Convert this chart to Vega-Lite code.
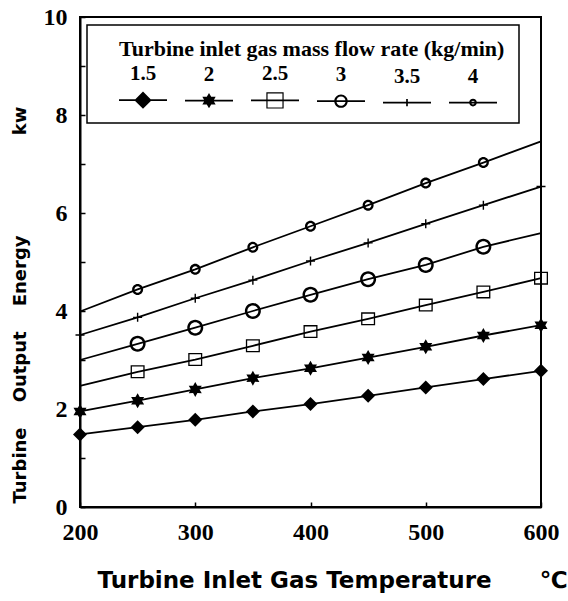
{
  "$schema": "https://vega.github.io/schema/vega-lite/v6.json",
  "width": 461,
  "height": 490,
  "autosize": {"type": "none"},
  "padding": {"left": 80, "top": 17, "right": 27, "bottom": 94},
  "background": "white",
  "data": {
    "values": [
      {"flow": "1.5", "T": 200, "E": 1.48}, {"flow": "1.5", "T": 250, "E": 1.63}, {"flow": "1.5", "T": 300, "E": 1.78},
      {"flow": "1.5", "T": 350, "E": 1.95}, {"flow": "1.5", "T": 400, "E": 2.10}, {"flow": "1.5", "T": 450, "E": 2.27},
      {"flow": "1.5", "T": 500, "E": 2.44}, {"flow": "1.5", "T": 550, "E": 2.61}, {"flow": "1.5", "T": 600, "E": 2.78},
      {"flow": "2", "T": 200, "E": 1.95}, {"flow": "2", "T": 250, "E": 2.17}, {"flow": "2", "T": 300, "E": 2.40},
      {"flow": "2", "T": 350, "E": 2.63}, {"flow": "2", "T": 400, "E": 2.83}, {"flow": "2", "T": 450, "E": 3.05},
      {"flow": "2", "T": 500, "E": 3.27}, {"flow": "2", "T": 550, "E": 3.50}, {"flow": "2", "T": 600, "E": 3.71},
      {"flow": "2.5", "T": 200, "E": 2.47}, {"flow": "2.5", "T": 250, "E": 2.76}, {"flow": "2.5", "T": 300, "E": 3.01},
      {"flow": "2.5", "T": 350, "E": 3.29}, {"flow": "2.5", "T": 400, "E": 3.58}, {"flow": "2.5", "T": 450, "E": 3.84},
      {"flow": "2.5", "T": 500, "E": 4.12}, {"flow": "2.5", "T": 550, "E": 4.39}, {"flow": "2.5", "T": 600, "E": 4.67},
      {"flow": "3", "T": 200, "E": 3.00}, {"flow": "3", "T": 250, "E": 3.33}, {"flow": "3", "T": 300, "E": 3.66},
      {"flow": "3", "T": 350, "E": 4.00}, {"flow": "3", "T": 400, "E": 4.33}, {"flow": "3", "T": 450, "E": 4.65},
      {"flow": "3", "T": 500, "E": 4.94}, {"flow": "3", "T": 550, "E": 5.31}, {"flow": "3", "T": 600, "E": 5.59},
      {"flow": "3.5", "T": 200, "E": 3.51}, {"flow": "3.5", "T": 250, "E": 3.87}, {"flow": "3.5", "T": 300, "E": 4.26},
      {"flow": "3.5", "T": 350, "E": 4.63}, {"flow": "3.5", "T": 400, "E": 5.02}, {"flow": "3.5", "T": 450, "E": 5.39},
      {"flow": "3.5", "T": 500, "E": 5.78}, {"flow": "3.5", "T": 550, "E": 6.16}, {"flow": "3.5", "T": 600, "E": 6.54},
      {"flow": "4", "T": 200, "E": 3.99}, {"flow": "4", "T": 250, "E": 4.44}, {"flow": "4", "T": 300, "E": 4.85},
      {"flow": "4", "T": 350, "E": 5.30}, {"flow": "4", "T": 400, "E": 5.73}, {"flow": "4", "T": 450, "E": 6.16},
      {"flow": "4", "T": 500, "E": 6.61}, {"flow": "4", "T": 550, "E": 7.03}, {"flow": "4", "T": 600, "E": 7.46}
    ]
  },
  "encoding": {
    "x": {
      "field": "T", "type": "quantitative",
      "scale": {"domain": [200, 600], "nice": false},
      "axis": {
        "values": [200, 300, 400, 500, 600],
        "title": "Turbine\u00a0Inlet\u00a0Gas\u00a0Temperature\u00a0\u00a0\u00a0\u00a0\u00a0\u00a0℃",
        "titleX": 17, "titleY": 73, "titleAlign": "left", "titleBaseline": "middle", "titleAngle": 0,
        "titleFontSize": 23,
        "labelFlush": false, "labelOverlap": false,
        "labelPadding": 18, "tickSize": -5
      }
    },
    "y": {
      "field": "E", "type": "quantitative",
      "scale": {"domain": [0, 10], "nice": false},
      "axis": {
        "values": [0, 1, 2, 3, 4, 5, 6, 7, 8, 9, 10],
        "labelExpr": "datum.value % 2 == 0 ? datum.label : ''",
        "title": "Turbine\u00a0\u00a0\u00a0\u00a0Output\u00a0\u00a0\u00a0\u00a0Energy\u00a0\u00a0\u00a0\u00a0\u00a0\u00a0\u00a0\u00a0\u00a0\u00a0\u00a0\u00a0\u00a0\u00a0\u00a0\u00a0kw",
        "titleX": -60, "titleY": 486, "titleAlign": "left", "titleBaseline": "middle", "titleAngle": 270,
        "titleFontSize": 18,
        "labelFlush": false, "labelOverlap": false,
        "labelPadding": 18, "tickSize": -5
      }
    }
  },
  "layer": [
    {
      "mark": {"type": "line", "color": "black", "strokeWidth": 1.8},
      "encoding": {"detail": {"field": "flow"}}
    },
    {
      "transform": [{"filter": "datum.flow == '1.5' || datum.flow == '2' || datum.flow == '3.5' || (datum.flow == '2.5' && datum.T >= 250) || ((datum.flow == '3' || datum.flow == '4') && datum.T >= 250 && datum.T <= 550)"}],
      "mark": {"type": "point", "filled": true, "color": "black", "size": 400, "opacity": 1, "strokeWidth": 0},
      "encoding": {
        "shape": {
          "field": "flow", "type": "nominal",
          "scale": {
            "domain": ["1.5", "2", "2.5", "3", "3.5", "4"],
            "range": [
              "M0,-0.7L0.7,0L0,0.7L-0.7,0Z",
              "M0,-0.75L0.215,-0.372L0.65,-0.375L0.43,0L0.65,0.375L0.215,0.372L0,0.75L-0.215,0.372L-0.65,0.375L-0.43,0L-0.65,-0.375L-0.215,-0.372Z",
              "M-0.7,-0.65H0.7V0.65H-0.7Z M-0.57,-0.52V0.52H0.57V-0.52Z",
              "M0,-0.8A0.8,0.8,0,1,1,0,0.8A0.8,0.8,0,1,1,0,-0.8Z M0,-0.55A0.55,0.55,0,1,0,0,0.55A0.55,0.55,0,1,0,0,-0.55Z",
              "M-0.45,-0.07H0.45V0.07H-0.45Z M-0.07,-0.45H0.07V0.45H-0.07Z",
              "M0,-0.55A0.55,0.55,0,1,1,0,0.55A0.55,0.55,0,1,1,0,-0.55Z M0,-0.32A0.32,0.32,0,1,0,0,0.32A0.32,0.32,0,1,0,0,-0.32Z"
            ]
          },
          "legend": null
        }
      }
    },
    {
      "mark": {"type": "point", "filled": true, "color": "black", "size": 2304, "opacity": 0, "strokeWidth": 0},
      "encoding": {
        "shape": {
          "field": "flow", "type": "nominal",
          "scale": {
            "domain": ["1.5", "2", "2.5", "3", "3.5", "4"],
            "range": [
              "M-0.25,-0.035H1.75V0.035H-0.25Z M0.75,-0.36L1.11,0L0.75,0.36L0.39,0Z",
              "M-0.25,-0.035H1.75V0.035H-0.25Z M0.75,-0.32L0.842,-0.16L1.027,-0.16L0.935,0L1.027,0.16L0.842,0.16L0.75,0.32L0.658,0.16L0.473,0.16L0.565,0L0.473,-0.16L0.658,-0.16Z",
              "M-0.25,-0.035H1.75V0.035H-0.25Z M0.39,-0.34H1.11V0.34H0.39Z M0.44,-0.29V0.29H1.06V-0.29Z",
              "M-0.25,-0.035H1.75V0.035H-0.25Z M0.75,-0.28A0.28,0.28,0,1,1,0.75,0.28A0.28,0.28,0,1,1,0.75,-0.28Z M0.75,-0.19A0.19,0.19,0,1,0,0.75,0.19A0.19,0.19,0,1,0,0.75,-0.19Z",
              "M-0.25,-0.035H1.75V0.035H-0.25Z M0.715,-0.15H0.785V0.15H0.715Z",
              "M-0.25,-0.035H1.75V0.035H-0.25Z M0.75,-0.16A0.16,0.16,0,1,1,0.75,0.16A0.16,0.16,0,1,1,0.75,-0.16Z M0.75,-0.08A0.08,0.08,0,1,0,0.75,0.08A0.08,0.08,0,1,0,0.75,-0.08Z"
            ]
          },
          "legend": {
            "title": "Turbine inlet gas mass flow rate (kg/min)",
            "orient": "none", "legendX": 7, "legendY": 8,
            "direction": "horizontal", "columns": 6,
            "symbolSize": 2304, "symbolOpacity": 1, "symbolFillColor": "black", "symbolStrokeWidth": 0,
            "labelAlign": "center", "labelOffset": -6, "labelBaseline": "bottom",
            "columnPadding": 0, "padding": 14, "titlePadding": 15, "titleLimit": 0,
            "encoding": {"labels": {"dy": {"value": -16}}, "title": {"dx": {"value": 18}}}
          }
        }
      }
    }
  ],
  "resolve": {"scale": {"shape": "independent"}, "legend": {"shape": "independent"}},
  "config": {
    "view": {"stroke": "black", "strokeWidth": 2},
    "axis": {
      "domainColor": "black", "domainWidth": 2, "tickColor": "black", "tickWidth": 1.5,
      "labelColor": "black", "titleColor": "black", "grid": false,
      "labelFont": "Liberation Serif", "labelFontWeight": "bold", "labelFontSize": 24,
      "titleFont": "DejaVu Sans", "titleFontWeight": "bold"
    },
    "legend": {
      "strokeColor": "black", "strokeWidth": 1.5, "fillColor": "white",
      "titleFont": "Liberation Serif", "titleFontWeight": "bold", "titleFontSize": 22, "titleColor": "black",
      "labelFont": "Liberation Serif", "labelFontWeight": "bold", "labelFontSize": 21, "labelColor": "black"
    }
  }
}
